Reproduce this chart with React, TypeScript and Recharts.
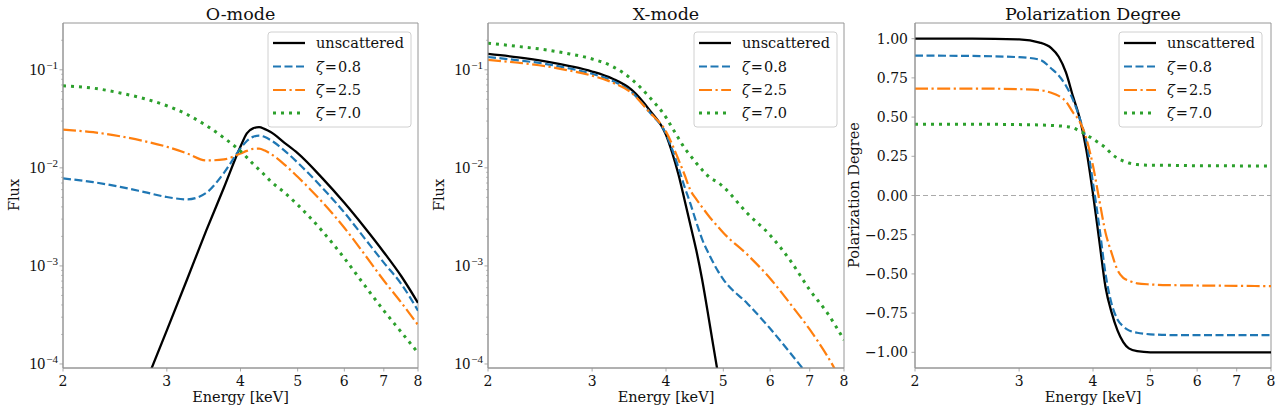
import React from 'react';
import { LineChart, Line, XAxis, YAxis, ReferenceLine, ReferenceArea } from 'recharts';

const SERIF = '"DejaVu Serif", serif';
const MATH = '"Liberation Serif", "DejaVu Serif", serif';
const SPINE = '#969696';

// ---------- ticks ----------
const energyTicks = [2, 3, 4, 5, 6, 7, 8];
const fluxMajorTicks = [1e-4, 1e-3, 1e-2, 1e-1];
const fluxMinorTicks = [
  2e-4, 3e-4, 4e-4, 5e-4, 6e-4, 7e-4, 8e-4, 9e-4,
  2e-3, 3e-3, 4e-3, 5e-3, 6e-3, 7e-3, 8e-3, 9e-3,
  2e-2, 3e-2, 4e-2, 5e-2, 6e-2, 7e-2, 8e-2, 9e-2,
  0.2,
];
const fluxTicks = [...fluxMajorTicks, ...fluxMinorTicks];
const polTicks = [-1, -0.75, -0.5, -0.25, 0, 0.25, 0.5, 0.75, 1];
const energyDomain = [2, 8];
const fluxDomain = [9.1e-5, 0.3];
const polDomain = [-1.1, 1.1];

// ---------- O-mode ----------
const oEnergy = [2, 2.25, 2.5, 2.75, 3, 3.25, 3.5, 3.75, 4, 4.1, 4.2, 4.3, 4.4, 4.5, 4.75, 5, 5.5, 6, 6.5, 7, 7.5, 8];
const oUnscattered = [null, null, null, 6.0e-5, 2.2e-4, 7.4e-4, 2.3e-3, 6.3e-3, 0.0165, 0.0225, 0.0253, 0.026, 0.0248, 0.0232, 0.0180, 0.0141, 0.0079, 0.0044, 0.00245, 0.00138, 0.00078, 0.00042];
const oZeta08 = [7.8e-3, 7.15e-3, 6.4e-3, 5.66e-3, 5.04e-3, 4.77e-3, 5.57e-3, 8.9e-3, 0.0158, 0.0188, 0.0207, 0.0213, 0.0206, 0.0192, 0.0150, 0.0113, 6.3e-3, 3.5e-3, 1.9e-3, 1.08e-3, 6.5e-4, 3.5e-4];
const oZeta25 = [0.0245, 0.0231, 0.021, 0.0187, 0.0164, 0.014, 0.0119, 0.0122, 0.014, 0.0149, 0.0156, 0.0157, 0.015, 0.0139, 0.0108, 8.1e-3, 4.5e-3, 2.45e-3, 1.3e-3, 7.1e-4, 4.2e-4, 2.5e-4];
const oZeta70 = [0.0687, 0.065, 0.058, 0.0507, 0.043, 0.0349, 0.027, 0.0202, 0.0148, 0.0128, 0.011, 9.6e-3, 8.4e-3, 7.3e-3, 5.6e-3, 4.2e-3, 2.28e-3, 1.2e-3, 6.3e-4, 3.5e-4, 2.1e-4, 1.3e-4];

// ---------- X-mode ----------
const xEnergy = [2, 2.25, 2.5, 2.75, 3, 3.25, 3.5, 3.75, 4, 4.1, 4.2, 4.3, 4.4, 4.5, 4.6, 4.75, 4.9, 5, 5.5, 6, 6.5, 7, 7.5, 8];
const xUnscattered = [0.145, 0.134, 0.122, 0.109, 0.096, 0.081, 0.0625, 0.039, 0.0217, 0.0141, 0.0085, 0.0047, 0.0026, 0.00145, 0.00075, 0.00024, 0.000078, 0.00004, null, null, null, null, null, null];
const xZeta08 = [0.135, 0.125, 0.115, 0.103, 0.091, 0.077, 0.059, 0.037, 0.0222, 0.0153, 0.01, 0.0064, 0.0043, 0.0028, 0.0019, 0.00125, 0.00088, 0.00073, 0.00041, 0.00023, 0.000128, 0.000073, 0.000042, 0.000024];
const xZeta25 = [0.126, 0.118, 0.109, 0.098, 0.087, 0.074, 0.058, 0.037, 0.0234, 0.0172, 0.0121, 0.0085, 0.0059, 0.0048, 0.0040, 0.0031, 0.0025, 0.00218, 0.00129, 0.000745, 0.000406, 0.000225, 0.00012, 0.00006];
const xZeta70 = [0.187, 0.173, 0.16, 0.145, 0.129, 0.108, 0.08, 0.0527, 0.0327, 0.0255, 0.02, 0.0159, 0.0133, 0.0112, 0.0096, 0.0079, 0.0071, 0.0064, 0.0034, 0.00206, 0.00112, 0.00057, 0.00033, 0.000176];

// ---------- Polarization degree ----------
const pEnergy = [2, 2.5, 3, 3.25, 3.4, 3.5, 3.6, 3.7, 3.8, 3.9, 4.0, 4.1, 4.2, 4.3, 4.4, 4.5, 4.6, 4.75, 5, 5.5, 6, 7, 8];
const pUnscattered = [1.0, 1.0, 0.995, 0.975, 0.94, 0.885, 0.785, 0.632, 0.49, 0.285, 0.01, -0.29, -0.585, -0.745, -0.86, -0.935, -0.975, -0.993, -1.0, -1.0, -1.0, -1.0, -1.0];
const pZeta08 = [0.892, 0.89, 0.882, 0.866, 0.81, 0.765, 0.7, 0.61, 0.49, 0.34, 0.08, -0.2, -0.5, -0.69, -0.79, -0.835, -0.86, -0.875, -0.885, -0.89, -0.89, -0.89, -0.89];
const pZeta25 = [0.682, 0.682, 0.678, 0.672, 0.655, 0.635, 0.6, 0.53, 0.47, 0.36, 0.19, -0.03, -0.237, -0.366, -0.475, -0.525, -0.543, -0.56, -0.567, -0.572, -0.574, -0.576, -0.578];
const pZeta70 = [0.455, 0.455, 0.452, 0.45, 0.447, 0.444, 0.44, 0.432, 0.41, 0.387, 0.36, 0.333, 0.305, 0.265, 0.238, 0.22, 0.207, 0.197, 0.193, 0.192, 0.19, 0.189, 0.188];

// ---------- series styling ----------
const seriesDefs = [
  { key: 'u', label: 'unscattered', zeta: false, color: '#000000', dash: undefined, width: 2.3 },
  { key: 'z08', label: '0.8', zeta: true, color: '#1f77b4', dash: '8 3.5', width: 2.2 },
  { key: 'z25', label: '2.5', zeta: true, color: '#ff7f0e', dash: '13 3.5 2.2 3.5', width: 2.2 },
  { key: 'z70', label: '7.0', zeta: true, color: '#2ca02c', dash: '3 5', width: 3 },
];

function buildRows(e: number[], u: (number | null)[], a: number[], b: number[], c: number[]) {
  return e.map((v, i) => ({ e: v, u: u[i], z08: a[i], z25: b[i], z70: c[i] }));
}

const oRows = buildRows(oEnergy, oUnscattered, oZeta08, oZeta25, oZeta70);
const xRows = buildRows(xEnergy, xUnscattered, xZeta08, xZeta25, xZeta70);
const pRows = buildRows(pEnergy, pUnscattered, pZeta08, pZeta25, pZeta70);

// ---------- tick renderers ----------
const XTick = (props: any) => {
  const { x, y, payload } = props;
  return (
    <g>
      <line x1={x} x2={x} y1={y} y2={y + 3.5} stroke={SPINE} strokeWidth={0.8} />
      <text x={x} y={y + 17.5} textAnchor="middle" fontFamily={SERIF} fontSize={14} fill="#111">
        {payload.value}
      </text>
    </g>
  );
};

const LogYTick = (props: any) => {
  const { x, y, payload } = props;
  const v = payload.value;
  const exp = Math.round(Math.log10(v));
  const major = Math.abs(v - Math.pow(10, exp)) < 1e-12;
  if (!major) {
    return <line x1={x} x2={x - 2} y1={y} y2={y} stroke={SPINE} strokeWidth={0.6} />;
  }
  return (
    <g>
      <line x1={x} x2={x - 3.5} y1={y} y2={y} stroke={SPINE} strokeWidth={0.8} />
      <text x={x - 5} y={y + 5.5} textAnchor="end" fontFamily={MATH} fontSize={16} fill="#111">
        10<tspan dx={1} dy={-6.5} fontSize={11}>{'\u2212' + String(-exp)}</tspan>
      </text>
    </g>
  );
};

const LinYTick = (props: any) => {
  const { x, y, payload } = props;
  const v = payload.value as number;
  const s = (v < 0 ? '\u2212' : '') + Math.abs(v).toFixed(2);
  return (
    <g>
      <line x1={x} x2={x - 3.5} y1={y} y2={y} stroke={SPINE} strokeWidth={0.8} />
      <text x={x - 7} y={y + 5} textAnchor="end" fontFamily={SERIF} fontSize={14} fill="#111">
        {s}
      </text>
    </g>
  );
};

// ---------- legend ----------
const LegendBox = ({ x, y }: { x: number; y: number }) => {
  const rowY = [11, 34.5, 58, 81];
  return (
    <g>
      <rect x={x} y={y} width={143} height={95} rx={3} ry={3} fill="rgba(255,255,255,0.85)" stroke="#d0d0d0" strokeWidth={1} />
      {seriesDefs.map((s, i) => (
        <g key={s.key}>
          <line
            x1={x + 5}
            x2={x + 37}
            y1={y + rowY[i]}
            y2={y + rowY[i]}
            stroke={s.color}
            strokeWidth={s.width}
            strokeDasharray={s.dash}
          />
          <text x={x + 48} y={y + rowY[i] + 5} fontFamily={SERIF} fontSize={14.5} fill="#111">
            {s.zeta ? (
              <>
                <tspan fontStyle="italic">{'\u03B6'}</tspan>
                <tspan dx={1}>=</tspan>
                <tspan dx={1}>{s.label}</tspan>
              </>
            ) : (
              s.label
            )}
          </text>
        </g>
      ))}
    </g>
  );
};

const renderLines = () =>
  seriesDefs.map((s) => (
    <Line
      key={s.key}
      dataKey={s.key}
      type="monotone"
      stroke={s.color}
      strokeWidth={s.width}
      strokeDasharray={s.dash}
      dot={false}
      activeDot={false}
      isAnimationActive={false}
      connectNulls={false}
    />
  ));

type PanelProps = {
  left: number;
  width: number;
  rows: any[];
  title: string;
  yLabel: string;
  yLabelX: number;
  yAxisWidth: number;
  rightMargin: number;
  legendX: number;
  kind: 'flux' | 'pol';
};

function Panel(p: PanelProps) {
  const plotLeft = p.yAxisWidth;
  const plotRight = p.width - p.rightMargin;
  const cx = (plotLeft + plotRight) / 2;
  const yDom = p.kind === 'flux' ? fluxDomain : polDomain;
  return (
    <div style={{ position: 'absolute', left: p.left, top: 0, width: p.width, height: 413 }}>
      <LineChart width={p.width} height={413} data={p.rows} margin={{ top: 23, right: p.rightMargin, bottom: 0, left: 0 }}>
        <XAxis
          dataKey="e"
          type="number"
          scale="log"
          domain={energyDomain}
          allowDataOverflow
          ticks={energyTicks}
          interval={0}
          height={45}
          tickSize={0}
          tickMargin={0}
          tickLine={false}
          axisLine={{ stroke: SPINE, strokeWidth: 1 }}
          tick={XTick}
        />
        {p.kind === 'flux' ? (
          <YAxis
            type="number"
            scale="log"
            domain={fluxDomain}
            allowDataOverflow
            ticks={fluxTicks}
            interval={0}
            width={p.yAxisWidth}
            tickSize={0}
            tickMargin={0}
            tickLine={false}
            axisLine={{ stroke: SPINE, strokeWidth: 1 }}
            tick={LogYTick}
          />
        ) : (
          <YAxis
            type="number"
            domain={polDomain}
            allowDataOverflow
            ticks={polTicks}
            interval={0}
            width={p.yAxisWidth}
            tickSize={0}
            tickMargin={0}
            tickLine={false}
            axisLine={{ stroke: SPINE, strokeWidth: 1 }}
            tick={LinYTick}
          />
        )}
        <ReferenceArea
          x1={energyDomain[0]}
          x2={energyDomain[1]}
          y1={yDom[0]}
          y2={yDom[1]}
          fill="none"
          fillOpacity={0}
          stroke={SPINE}
          strokeWidth={1}
          ifOverflow="visible"
        />
        {p.kind === 'pol' && (
          <ReferenceLine y={0} stroke="#aaaaaa" strokeWidth={1} strokeDasharray="5 3" />
        )}
        {renderLines()}
      </LineChart>
      <svg
        width={p.width}
        height={413}
        style={{ position: 'absolute', left: 0, top: 0, pointerEvents: 'none', overflow: 'visible' }}
      >
        <text x={cx} y={19.5} textAnchor="middle" fontFamily={SERIF} fontSize={17.5} fill="#111">
          {p.title}
        </text>
        <text x={cx} y={402} textAnchor="middle" fontFamily={SERIF} fontSize={14.5} fill="#111">
          Energy [keV]
        </text>
        <text
          x={p.yLabelX}
          y={195}
          textAnchor="middle"
          dominantBaseline="central"
          transform={`rotate(-90 ${p.yLabelX} 195)`}
          fontFamily={SERIF}
          fontSize={14.5}
          fill="#111"
        >
          {p.yLabel}
        </text>
        <LegendBox x={p.legendX} y={32} />
      </svg>
    </div>
  );
}

export default function App() {
  return (
    <div style={{ position: 'absolute', left: 0, top: 0, width: 1280, height: 413, background: '#ffffff', overflow: 'hidden' }}>
      <Panel left={0} width={425} rows={oRows} title="O-mode" yLabel="Flux" yLabelX={13.5} yAxisWidth={63} rightMargin={7} legendX={268} kind="flux" />
      <Panel left={425} width={425} rows={xRows} title="X-mode" yLabel="Flux" yLabelX={13.5} yAxisWidth={63} rightMargin={6} legendX={269} kind="flux" />
      <Panel left={845} width={435} rows={pRows} title="Polarization Degree" yLabel="Polarization Degree" yLabelX={9} yAxisWidth={70} rightMargin={9} legendX={274} kind="pol" />
    </div>
  );
}
